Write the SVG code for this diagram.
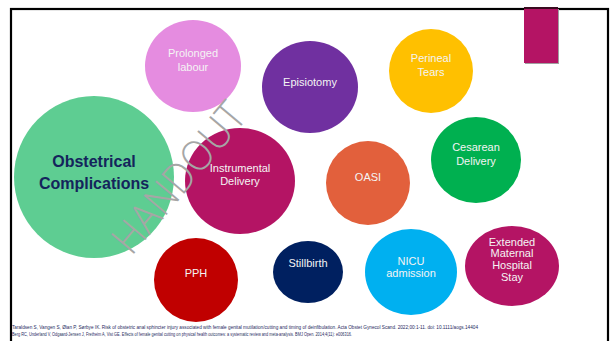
<svg xmlns="http://www.w3.org/2000/svg" width="610" height="341" viewBox="0 0 610 341">
<style>
.lbl{font-family:"Liberation Sans",Arial,sans-serif;font-size:11px;fill:#f4f4f4;text-anchor:middle}
.main{font-family:"Liberation Sans",Arial,sans-serif;font-size:16px;font-weight:bold;fill:#14245c;text-anchor:middle}
.ref{font-family:"Liberation Sans",Arial,sans-serif;font-size:4.5px;fill:#1f2a5e}
</style>
<rect x="0" y="0" width="610" height="341" fill="#ffffff"/>
<rect x="11" y="9" width="597" height="345" fill="none" stroke="#000" stroke-width="2.2"/>
<g id="tab">
<rect x="525" y="9" width="34" height="55" fill="#a0a0a0"/>
<rect x="524" y="8" width="34" height="55" fill="#b41464"/>
<rect x="524" y="7" width="34" height="2" fill="#3a0a20"/>
</g>
<g id="obstetrical">
<ellipse cx="94" cy="177" rx="80" ry="81" fill="#5ecd92"/>
<text class="main" x="94" y="167">Obstetrical</text>
<text class="main" x="94" y="189">Complications</text>
</g>
<g id="prolonged">
<ellipse cx="193" cy="66" rx="48" ry="46" fill="#e58ce0"/>
<text class="lbl" x="193" y="57">Prolonged</text>
<text class="lbl" x="193" y="71">labour</text>
</g>
<g id="episiotomy">
<ellipse cx="310" cy="87" rx="48" ry="46" fill="#7030a0"/>
<text class="lbl" x="310" y="86">Episiotomy</text>
</g>
<g id="perineal">
<ellipse cx="431" cy="71" rx="42" ry="42" fill="#ffc000"/>
<text class="lbl" x="431" y="62">Perineal</text>
<text class="lbl" x="431" y="76">Tears</text>
</g>
<g id="cesarean">
<ellipse cx="476" cy="160" rx="45" ry="43" fill="#00b050"/>
<text class="lbl" x="476" y="151">Cesarean</text>
<text class="lbl" x="476" y="165">Delivery</text>
</g>
<g id="instrumental">
<ellipse cx="240" cy="181" rx="55" ry="53" fill="#b41464"/>
<text class="lbl" x="240" y="172">Instrumental</text>
<text class="lbl" x="240" y="185">Delivery</text>
</g>
<g id="oasi">
<ellipse cx="368" cy="183" rx="42" ry="42" fill="#e2603c"/>
<text class="lbl" x="368" y="181">OASI</text>
</g>
<g id="pph">
<ellipse cx="196" cy="280" rx="42" ry="42" fill="#c00000"/>
<text class="lbl" x="196" y="277">PPH</text>
</g>
<g id="stillbirth">
<ellipse cx="308" cy="272" rx="35" ry="31" fill="#002060"/>
<text class="lbl" x="308" y="267">Stillbirth</text>
</g>
<g id="nicu">
<ellipse cx="411" cy="272" rx="46" ry="43" fill="#00b0f0"/>
<text class="lbl" x="411" y="265">NICU</text>
<text class="lbl" x="411" y="277">admission</text>
</g>
<g id="extended">
<ellipse cx="512" cy="266" rx="47" ry="40" fill="#b41464"/>
<text class="lbl" x="512" y="246">Extended</text>
<text class="lbl" x="512" y="257">Maternal</text>
<text class="lbl" x="512" y="269">Hospital</text>
<text class="lbl" x="512" y="281">Stay</text>
</g>
<g id="connectors"></g>
<text transform="translate(190,187) rotate(-50)" font-family="'Open Sans','DejaVu Sans',sans-serif" font-weight="300" font-size="42" fill="#a6a6a6" text-anchor="middle" textLength="182" lengthAdjust="spacingAndGlyphs">HANDOUT</text>
<text class="ref" x="12" y="329" textLength="466" lengthAdjust="spacingAndGlyphs">Taraldsen S, Vangen S, Øian P, Sørbye IK. Risk of obstetric anal sphincter injury associated with female genital mutilation/cutting and timing of deinfibulation. Acta Obstet Gynecol Scand. 2022;00:1-11. doi: 10.1111/aogs.14404</text>
<text class="ref" x="12" y="335.5" textLength="340" lengthAdjust="spacingAndGlyphs">Berg RC, Underland V, Odgaard-Jensen J, Fretheim A, Vist GE. Effects of female genital cutting on physical health outcomes: a systematic review and meta-analysis. BMJ Open. 2014;4(11): e006316.</text>
</svg>
